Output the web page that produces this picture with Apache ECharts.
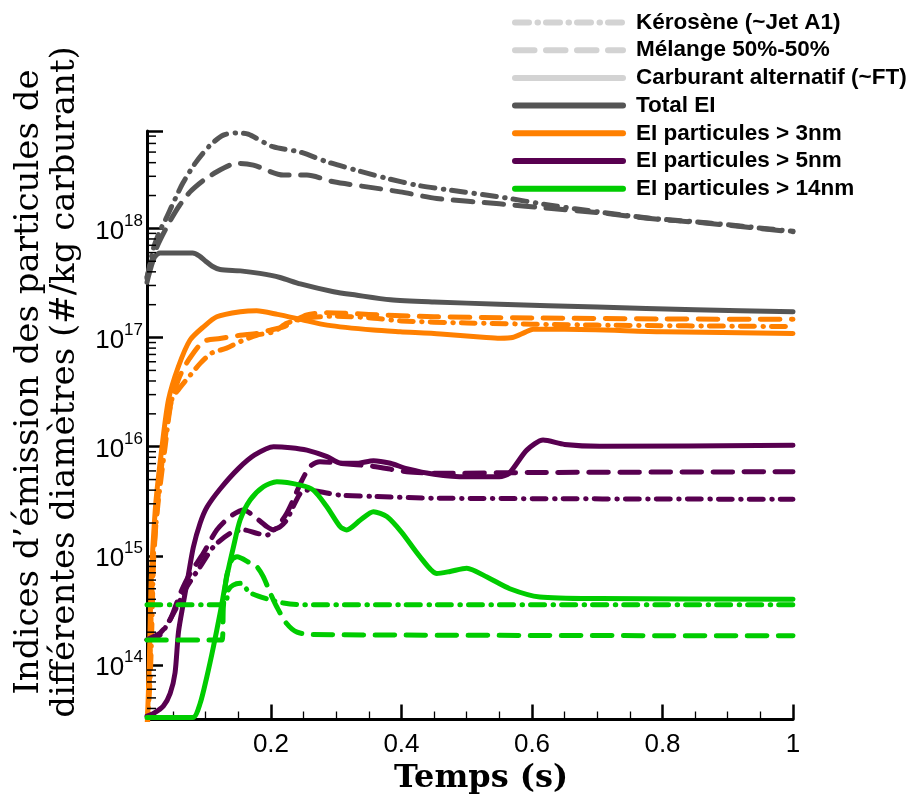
<!DOCTYPE html>
<html><head><meta charset="utf-8">
<script src="https://cdn.jsdelivr.net/npm/echarts@6/dist/echarts.min.js"></script>
<style>html,body{margin:0;padding:0;background:#fff}#c{width:909px;height:796px}</style>
</head><body><div id="c"></div>
<script>
// ---------- axes ----------
const xMin = 0.01, xMax = 1;
const yMin = 3.17e13, yMax = 7.8e18;
const xMajorTicks = [0.2, 0.4, 0.6, 0.8, 1];
const xMinorTicks = [0.05, 0.1, 0.15, 0.25, 0.3, 0.35, 0.45, 0.5, 0.55, 0.65, 0.7, 0.75, 0.85, 0.9, 0.95];
const yDecades = [13, 14, 15, 16, 17, 18];
const yMinorMultipliers = [2, 3, 4, 5, 6, 7, 8, 9];

// ---------- legend ----------
const legendStyleNames = ['Kérosène (~Jet A1)', 'Mélange 50%-50%', 'Carburant alternatif (~FT)'];
const legendColorNames = ['Total EI', 'EI particules > 3nm', 'EI particules > 5nm', 'EI particules > 14nm'];

// ---------- data : [temps (s), EI (#/kg)] ----------
// Total EI
const totalKero = [[0.01,3.5e17],[0.02,6.6e17],[0.03,9.6e17],[0.038,1.19e18],[0.05,1.7e18],[0.065,2.6e18],[0.084,3.96e18],[0.107,5.8e18],[0.127,7.15e18],[0.148,7.5e18],[0.165,7.3e18],[0.203,5.6e18],[0.245,5.0e18],[0.286,4.07e18],[0.33,3.42e18],[0.378,2.87e18],[0.423,2.49e18],[0.475,2.24e18],[0.551,1.94e18],[0.628,1.63e18],[0.704,1.41e18],[0.781,1.24e18],[0.858,1.14e18],[0.934,1.03e18],[1.0,9.4e17]];
const totalMel = [[0.01,3.6e17],[0.02,5.7e17],[0.03,7.8e17],[0.046,1.19e18],[0.06,1.63e18],[0.076,2.16e18],[0.097,2.77e18],[0.117,3.3e18],[0.137,3.8e18],[0.153,3.94e18],[0.173,3.8e18],[0.219,3.08e18],[0.255,3.08e18],[0.296,2.67e18],[0.347,2.4e18],[0.398,2.16e18],[0.454,1.88e18],[0.55,1.68e18],[0.63,1.52e18],[0.704,1.39e18],[0.781,1.23e18],[0.858,1.13e18],[0.934,1.02e18],[1.0,9.3e17]];
const totalFT = [[0.01,3.2e17],[0.012,3.6e17],[0.018,4.8e17],[0.022,5.5e17],[0.03,5.95e17],[0.08,5.95e17],[0.09,5.6e17],[0.1,5.0e17],[0.11,4.5e17],[0.122,4.2e17],[0.153,4.08e17],[0.183,3.87e17],[0.214,3.55e17],[0.245,3.1e17],[0.296,2.63e17],[0.33,2.45e17],[0.383,2.22e17],[0.45,2.12e17],[0.55,2.02e17],[0.7,1.9e17],[0.85,1.8e17],[1.0,1.72e17]];
// EI > 3nm
const p3Kero = [[0.01,2.5e13],[0.015,8e13],[0.018,3e14],[0.02,1e15],[0.0225,1.6e15],[0.0276,3.3e15],[0.0378,1e16],[0.048,2.7e16],[0.061,3.5e16],[0.076,4.5e16],[0.0915,5.8e16],[0.109,7.2e16],[0.132,8.0e16],[0.153,9.2e16],[0.178,1.05e17],[0.204,1.13e17],[0.224,1.35e17],[0.24,1.44e17],[0.265,1.53e17],[0.3,1.57e17],[0.35,1.52e17],[0.4,1.42e17],[0.5,1.36e17],[0.7,1.3e17],[1.0,1.26e17]];
const p3Mel = [[0.01,2.5e13],[0.014,8e13],[0.017,4e14],[0.02,9e14],[0.026,3e15],[0.036,1e16],[0.046,2.4e16],[0.06,4.4e16],[0.075,6.4e16],[0.0965,9.2e16],[0.122,9.8e16],[0.153,1.05e17],[0.178,1.09e17],[0.199,1.17e17],[0.219,1.25e17],[0.234,1.4e17],[0.255,1.61e17],[0.286,1.69e17],[0.35,1.63e17],[0.45,1.55e17],[0.6,1.51e17],[0.8,1.48e17],[1.0,1.47e17]];
const p3FT = [[0.01,2.5e13],[0.0135,1e14],[0.016,5e14],[0.019,1.2e15],[0.024,3.3e15],[0.033,1e16],[0.043,2.7e16],[0.058,5.4e16],[0.076,9.5e16],[0.097,1.26e17],[0.117,1.55e17],[0.153,1.72e17],[0.178,1.76e17],[0.21,1.63e17],[0.245,1.47e17],[0.286,1.3e17],[0.357,1.17e17],[0.398,1.13e17],[0.46,1.08e17],[0.53,1.0e17],[0.551,9.85e16],[0.57,1.0e17],[0.59,1.12e17],[0.602,1.19e17],[0.65,1.19e17],[0.8,1.13e17],[1.0,1.09e17]];
// EI > 5nm
const p5Kero = [[0.01,1.7e14],[0.03,1.89e14],[0.0506,2.98e14],[0.0711,5.2e14],[0.0915,7.96e14],[0.1118,1.21e15],[0.1374,1.61e15],[0.158,1.73e15],[0.178,1.61e15],[0.194,1.55e15],[0.204,1.73e15],[0.214,1.85e15],[0.224,2.13e15],[0.234,2.82e15],[0.245,3.74e15],[0.255,4.0e15],[0.306,3.6e15],[0.357,3.5e15],[0.459,3.37e15],[1.0,3.3e15]];
const p5Mel = [[0.01,1.7e14],[0.0145,1.76e14],[0.03,1.96e14],[0.0455,2.6e14],[0.0608,4.5e14],[0.0761,6.9e14],[0.0965,1.06e15],[0.117,1.73e15],[0.1374,2.29e15],[0.158,2.63e15],[0.178,2.2e15],[0.194,1.85e15],[0.204,1.73e15],[0.214,1.99e15],[0.224,2.45e15],[0.234,3.25e15],[0.245,4.6e15],[0.26,6.6e15],[0.275,7.3e15],[0.306,7.05e15],[0.357,6.6e15],[0.408,5.9e15],[0.459,5.7e15],[0.6,5.8e15],[1.0,5.9e15]];
const p5FT = [[0.01,3.4e13],[0.02,3.6e13],[0.035,4.2e13],[0.0455,5.5e13],[0.053,8.5e13],[0.0582,2e14],[0.065,3.5e14],[0.073,6.5e14],[0.081,1.2e15],[0.0915,2.0e15],[0.102,2.8e15],[0.122,4.1e15],[0.15,6.3e15],[0.175,8.4e15],[0.204,1.0e16],[0.23,9.8e15],[0.255,9.3e15],[0.286,8.1e15],[0.306,7.1e15],[0.332,7.05e15],[0.357,7.45e15],[0.383,7.05e15],[0.408,6.3e15],[0.45,5.6e15],[0.5,5.3e15],[0.55,5.3e15],[0.565,5.7e15],[0.592,9.3e15],[0.617,1.15e16],[0.65,1.05e16],[0.704,1.01e16],[1.0,1.03e16]];
// EI > 14nm
const p14Kero = [[0.01,3.57e14],[0.128,3.57e14],[0.135,4.9e14],[0.142,5.4e14],[0.153,5.6e14],[0.168,4.6e14],[0.199,3.95e14],[0.219,3.7e14],[0.245,3.57e14],[1.0,3.57e14]];
const p14Mel = [[0.01,1.7e14],[0.125,1.7e14],[0.127,3.4e14],[0.132,6.5e14],[0.14,9.2e14],[0.148,9.8e14],[0.168,8.6e14],[0.178,8.0e14],[0.188,6.5e14],[0.199,4.55e14],[0.209,3.4e14],[0.224,2.4e14],[0.24,2.0e14],[0.265,1.9e14],[1.0,1.85e14]];
const p14FT = [[0.01,3.3e13],[0.08,3.3e13],[0.0915,4.47e13],[0.1017,7.8e13],[0.1118,1.47e14],[0.122,2.98e14],[0.1324,6.5e14],[0.1425,1.21e15],[0.1527,2.13e15],[0.168,3.25e15],[0.1884,4.3e15],[0.209,4.78e15],[0.245,4.45e15],[0.265,4.0e15],[0.2856,2.82e15],[0.306,1.85e15],[0.316,1.73e15],[0.337,2.13e15],[0.357,2.54e15],[0.3775,2.29e15],[0.4,1.65e15],[0.4285,9.8e14],[0.454,6.9e14],[0.4745,7.2e14],[0.5,7.7e14],[0.531,6.4e14],[0.566,5.0e14],[0.612,4.2e14],[0.704,4.06e14],[1.0,4.0e14]];

// ---------- styles ----------
const COLORS = { total: '#555555', p3: '#ff8000', p5: '#580050', p14: '#00cc00', legendGrey: '#d3d3d3' };
const DASH = { kero: [14, 8.5, 0.5, 8], mel: [19.5, 11.5], ft: 'solid' };
const LW = 5;

function lineSeries(name, data, color, dash) {
  return {
    type: 'line', name: name, data: data, xAxisIndex: 0, yAxisIndex: 0,
    symbol: 'none', smooth: 0.25, silent: true, animation: false,
    lineStyle: { color: color, width: LW, type: dash, cap: 'round', join: 'round' },
    itemStyle: { color: color }
  };
}
function legendSeries(name, color, dash) {
  return {
    type: 'line', name: name, data: [], symbol: 'none', silent: true,
    lineStyle: { color: color, width: 6, type: dash, cap: 'round' },
    itemStyle: { color: color }
  };
}

const yMinorTicks = [];
yDecades.forEach(d => yMinorMultipliers.forEach(m => {
  const v = m * Math.pow(10, d);
  if (v > yMin && v < yMax) yMinorTicks.push(v);
}));

const series = [
  lineSeries('totalKero', totalKero, COLORS.total, DASH.kero),
  lineSeries('totalMel', totalMel, COLORS.total, DASH.mel),
  lineSeries('totalFT', totalFT, COLORS.total, DASH.ft),
  lineSeries('p3Kero', p3Kero, COLORS.p3, DASH.kero),
  lineSeries('p3Mel', p3Mel, COLORS.p3, DASH.mel),
  lineSeries('p3FT', p3FT, COLORS.p3, DASH.ft),
  lineSeries('p5Kero', p5Kero, COLORS.p5, DASH.kero),
  lineSeries('p5Mel', p5Mel, COLORS.p5, DASH.mel),
  lineSeries('p5FT', p5FT, COLORS.p5, DASH.ft),
  lineSeries('p14Kero', p14Kero, COLORS.p14, DASH.kero),
  lineSeries('p14Mel', p14Mel, COLORS.p14, DASH.mel),
  lineSeries('p14FT', p14FT, COLORS.p14, DASH.ft),
  legendSeries(legendStyleNames[0], COLORS.legendGrey, DASH.kero),
  legendSeries(legendStyleNames[1], COLORS.legendGrey, DASH.mel),
  legendSeries(legendStyleNames[2], COLORS.legendGrey, DASH.ft),
  legendSeries(legendColorNames[0], COLORS.total, DASH.ft),
  legendSeries(legendColorNames[1], COLORS.p3, DASH.ft),
  legendSeries(legendColorNames[2], COLORS.p5, DASH.ft),
  legendSeries(legendColorNames[3], COLORS.p14, DASH.ft),
  {
    type: 'custom', name: 'yMinorTicks', silent: true, clip: false, z: 5,
    data: yMinorTicks.map(v => [xMin, v]),
    renderItem: function (params, api) {
      const p = api.coord([api.value(0), api.value(1)]);
      return { type: 'line', shape: { x1: p[0], y1: p[1], x2: p[0] + 9, y2: p[1] },
               style: { stroke: '#000', lineWidth: 1.5 } };
    }
  }
];

const chart = echarts.init(document.getElementById('c'), null, { renderer: 'canvas' });
chart.setOption({
  animation: false,
  backgroundColor: '#ffffff',
  grid: { left: 147, right: 116, top: 131, bottom: 76.5, containLabel: false, outerBoundsMode: 'none' },
  legend: {
    orient: 'vertical', left: 512, top: 11, padding: 0,
    itemWidth: 108, itemHeight: 14, itemGap: 4.7, selectedMode: false,
    data: legendStyleNames.concat(legendColorNames),
    lineStyle: { width: 6 },
    itemStyle: { opacity: 0 },
    textStyle: { fontFamily: 'Liberation Sans', fontWeight: 'bold', fontSize: 22.5, color: '#000', padding: [0, 0, 0, 8] }
  },
  xAxis: [{
    type: 'value', min: xMin, max: xMax, splitNumber: 5, position: 'bottom',
    name: 'Temps (s)', nameLocation: 'middle', nameGap: 38,
    nameTextStyle: { fontFamily: 'DejaVu Serif', fontWeight: 'bold', fontSize: 32, color: '#000', padding: [0, 0, 0, 22] },
    axisLine: { onZero: false, lineStyle: { color: '#000', width: 3 } },
    axisTick: { inside: true, length: 15, customValues: xMajorTicks, lineStyle: { color: '#000', width: 2.5 } },
    axisLabel: { margin: 12, fontFamily: 'Liberation Sans', fontSize: 26, color: '#000', customValues: xMajorTicks,
      formatter: v => String(+v.toFixed(1)) },
    splitLine: { show: false }
  }, {
    type: 'value', min: xMin, max: xMax, splitNumber: 20, position: 'bottom',
    axisLine: { show: false, onZero: false },
    axisTick: { inside: true, length: 8, customValues: xMinorTicks, lineStyle: { color: '#000', width: 1.3 } },
    axisLabel: { show: false }, splitLine: { show: false }
  }],
  yAxis: {
    type: 'log', logBase: 10, min: yMin, max: yMax,
    axisLine: { onZero: false, lineStyle: { color: '#000', width: 3 } },
    axisTick: { inside: true, length: 16, lineStyle: { color: '#000', width: 2.5 } },
    axisLabel: {
      margin: 4,
      formatter: function (v) {
        const l = Math.log10(v), e = Math.round(l);
        if (Math.abs(l - e) > 1e-6) return '';
        return '{b|10}{s|' + e + '}';
      },
      rich: {
        b: { fontFamily: 'Liberation Sans', fontSize: 26, color: '#000', lineHeight: 32, verticalAlign: 'bottom' },
        s: { fontFamily: 'Liberation Sans', fontSize: 17, color: '#000', lineHeight: 17, verticalAlign: 'top' }
      }
    },
    splitLine: { show: false }, minorTick: { show: false }
  },
  graphic: [{
    type: 'text', x: 47, y: 382, rotation: Math.PI / 2, silent: true,
    style: {
      text: 'Indices d’émission des particules de\ndifférentes diamètres (#/kg carburant)',
      font: '34px "DejaVu Serif"', fill: '#000', align: 'center', verticalAlign: 'middle', lineHeight: 36
    }
  }],
  series: series
});
</script></body></html>
